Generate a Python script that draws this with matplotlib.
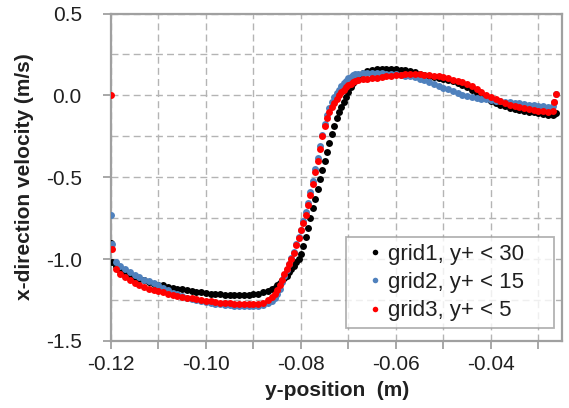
import matplotlib
matplotlib.use("Agg")
import matplotlib.pyplot as plt
from matplotlib.ticker import MultipleLocator, FuncFormatter

plt.rcParams['font.family'] = ['Liberation Sans', 'DejaVu Sans']
plt.rcParams['axes.unicode_minus'] = False

# ---------------- data ----------------
y_pos = [
    -0.119, -0.118, -0.117, -0.116, -0.115, -0.114, -0.113, -0.112, -0.111, -0.110,
    -0.109, -0.108, -0.107, -0.106, -0.105, -0.104, -0.103, -0.102, -0.101, -0.100,
    -0.099, -0.098, -0.097, -0.096, -0.095, -0.094, -0.093, -0.092, -0.091, -0.090,
    -0.089, -0.088, -0.087, -0.086,
    -0.0855, -0.0850, -0.0845, -0.0840, -0.0835, -0.0830, -0.0825, -0.0820, -0.0815, -0.0810,
    -0.0805, -0.0800, -0.0795, -0.0790, -0.0785, -0.0780, -0.0775, -0.0770, -0.0765, -0.0760,
    -0.0755, -0.0750, -0.0745, -0.0740, -0.0735, -0.0730, -0.0725, -0.0720, -0.0715, -0.0710,
    -0.0705, -0.0700, -0.0695, -0.0690, -0.0685, -0.0680,
    -0.067, -0.066, -0.065, -0.064, -0.063, -0.062, -0.061, -0.060, -0.059, -0.058,
    -0.057, -0.056, -0.055, -0.054, -0.053, -0.052, -0.051, -0.050, -0.049, -0.048,
    -0.047, -0.046, -0.045, -0.044, -0.043, -0.042, -0.041, -0.040, -0.039, -0.038,
    -0.037, -0.036, -0.035, -0.034, -0.033, -0.032, -0.031, -0.030, -0.029, -0.028,
    -0.027,
]

u_grid1 = [
    -1.04, -1.07, -1.09, -1.10, -1.11, -1.12, -1.13, -1.14, -1.15, -1.155,
    -1.16, -1.17, -1.175, -1.18, -1.185, -1.19, -1.195, -1.20, -1.203, -1.206,
    -1.21, -1.213, -1.216, -1.218, -1.22, -1.22, -1.22, -1.22, -1.218, -1.215,
    -1.21, -1.20, -1.195, -1.185,
    -1.175, -1.16, -1.145, -1.13, -1.115, -1.10, -1.08, -1.06, -1.04, -1.02,
    -1.00, -0.97, -0.92, -0.865, -0.81, -0.75, -0.69, -0.63, -0.57, -0.51,
    -0.455, -0.40, -0.345, -0.29, -0.235, -0.185, -0.14, -0.10, -0.07, -0.04,
    -0.01, 0.02, 0.05, 0.075, 0.095, 0.11,
    0.135, 0.15, 0.158, 0.162, 0.163, 0.163, 0.162, 0.16, 0.157, 0.153,
    0.147, 0.14, 0.133, 0.127, 0.121, 0.115, 0.109, 0.103, 0.096, 0.087,
    0.076, 0.064, 0.05, 0.033, 0.015, -0.002, -0.018, -0.033, -0.046, -0.057,
    -0.067, -0.075, -0.082, -0.088, -0.094, -0.099, -0.103, -0.108, -0.114, -0.12,
    -0.117,
]

u_grid2 = [
    -1.02, -1.04, -1.06, -1.08, -1.095, -1.11, -1.125, -1.135, -1.145, -1.16,
    -1.175, -1.19, -1.205, -1.215, -1.225, -1.235, -1.243, -1.25, -1.256, -1.262,
    -1.267, -1.272, -1.276, -1.28, -1.283, -1.285, -1.287, -1.288, -1.289, -1.289,
    -1.287, -1.28, -1.27, -1.255,
    -1.24, -1.215, -1.18, -1.14, -1.10, -1.065, -1.03, -0.995, -0.955, -0.91,
    -0.865, -0.82, -0.77, -0.715, -0.655, -0.59, -0.52, -0.45, -0.38, -0.31,
    -0.24, -0.175, -0.12, -0.075, -0.04, -0.01, 0.015, 0.035, 0.055, 0.075,
    0.09, 0.105, 0.115, 0.122, 0.128, 0.132,
    0.135, 0.136, 0.136, 0.135, 0.134, 0.132, 0.13, 0.128, 0.125, 0.121,
    0.116, 0.11, 0.102, 0.093, 0.083, 0.072, 0.06, 0.048, 0.036, 0.024,
    0.014, 0.005, -0.002, -0.008, -0.014, -0.02, -0.025, -0.03, -0.034, -0.037,
    -0.04, -0.043, -0.046, -0.049, -0.053, -0.057, -0.061, -0.064, -0.066, -0.068,
    -0.062,
]

u_grid3 = [
    -1.06, -1.09, -1.11, -1.13, -1.145, -1.16, -1.17, -1.18, -1.19, -1.195,
    -1.20, -1.21, -1.22, -1.225, -1.23, -1.235, -1.24, -1.245, -1.25, -1.255,
    -1.258, -1.262, -1.265, -1.268, -1.27, -1.272, -1.274, -1.275, -1.276, -1.276,
    -1.272, -1.265, -1.25, -1.23,
    -1.21, -1.19, -1.16, -1.125, -1.09, -1.06, -1.03, -1.00, -0.96, -0.915,
    -0.87, -0.825, -0.78, -0.73, -0.67, -0.61, -0.54, -0.47, -0.40, -0.33,
    -0.25, -0.19, -0.14, -0.10, -0.07, -0.045, -0.02, 0.00, 0.02, 0.035,
    0.05, 0.062, 0.072, 0.08, 0.087, 0.093,
    0.097, 0.101, 0.105, 0.109, 0.113, 0.117, 0.121, 0.124, 0.127, 0.129,
    0.13, 0.13, 0.128, 0.126, 0.123, 0.12, 0.116, 0.111, 0.104, 0.096,
    0.088, 0.08, 0.07, 0.055, 0.04, 0.022, 0.005, -0.012, -0.025, -0.037,
    -0.048, -0.058, -0.066, -0.073, -0.08, -0.086, -0.091, -0.095, -0.098, -0.10,
    -0.098,
]

# near-wall points at each end of the profile
wall_pos = [-0.1199, -0.1197]
wall_grid1 = [-0.90, -1.02]
wall_grid2 = [-0.73, -0.91]
wall_grid3 = [0.00, -0.94]

end_pos = [-0.0266, -0.0262]
end_grid1 = [-0.112, -0.106]
end_grid2 = [-0.040, 0.010]
end_grid3 = [-0.041, 0.006]

series_labels = ["grid1, y+ < 30", "grid2, y+ < 15", "grid3, y+ < 5"]
series_colors = ["#000000", "#4F81BD", "#FF0000"]

# ---------------- figure ----------------
W, H = 569, 408
fig = plt.figure(figsize=(W / 100, H / 100), dpi=100)
L, R, T, B = 111, 562, 13.5, 341
ax = fig.add_axes([L / W, 1 - B / H, (R - L) / W, (B - T) / H])

all_series = [
    (u_grid1, wall_grid1, end_grid1),
    (u_grid2, wall_grid2, end_grid2),
    (u_grid3, wall_grid3, end_grid3),
]
for (u, uw, ue), lab, col in zip(all_series, series_labels, series_colors):
    xs = wall_pos + y_pos + end_pos
    ys = uw + u + ue
    ax.plot(xs, ys, linestyle='none', marker='o', markersize=5.0,
            markerfacecolor=col, markeredgecolor=col, markeredgewidth=0,
            label=lab, zorder=3)

ax.set_xlim(-0.12, -0.025)
ax.set_ylim(-1.5, 0.5)

ax.xaxis.set_major_locator(MultipleLocator(0.01))
ax.yaxis.set_major_locator(MultipleLocator(0.5))
ax.yaxis.set_minor_locator(MultipleLocator(0.25))

def xfmt(v, pos):
    k = int(round(v * 100))
    if k % 2 == 0:
        return "%.2f" % v
    return ""

ax.xaxis.set_major_formatter(FuncFormatter(xfmt))
ax.yaxis.set_major_formatter(FuncFormatter(lambda v, p: "%.1f" % v))

grid_kw = dict(color='#b4b4b4', linestyle=(0, (5, 3)), linewidth=1.0)
ax.grid(True, which='major', **grid_kw)
ax.yaxis.grid(True, which='minor', **grid_kw)
ax.set_axisbelow(True)

for s in ax.spines.values():
    s.set_color('#a0a0a0')
    s.set_linewidth(1.6)

ax.tick_params(axis='both', which='major', direction='out', length=6,
               width=1.3, color='#a0a0a0', labelsize=15, labelcolor='#202020')
ax.tick_params(axis='y', which='major', pad=15)
ax.tick_params(axis='x', which='major', pad=4)
ax.tick_params(axis='y', which='minor', length=0)

fig.text(337 / W, 1 - 391 / H, "y-position  (m)", ha='center', va='center',
         fontsize=15, fontweight='bold', color='#202020')
fig.text(25 / W, 1 - 177 / H, "x-direction velocity (m/s)", ha='center',
         va='center', rotation=90, fontsize=15, fontweight='bold', color='#202020')

leg = ax.legend(loc='upper left', mode='expand',
                bbox_to_anchor=(346 / W, 1 - 327 / H, 208 / W, 90 / H),
                bbox_transform=fig.transFigure, frameon=True, fancybox=False,
                fontsize=16, markerscale=0.8, handlelength=2.0, handletextpad=-0.4,
                labelspacing=0.33, borderpad=0.3, borderaxespad=0)
leg.get_frame().set_edgecolor('#a0a0a0')
leg.get_frame().set_linewidth(1.3)
for t in leg.get_texts():
    t.set_color('#202020')

fig.savefig("out.png", dpi=100)
